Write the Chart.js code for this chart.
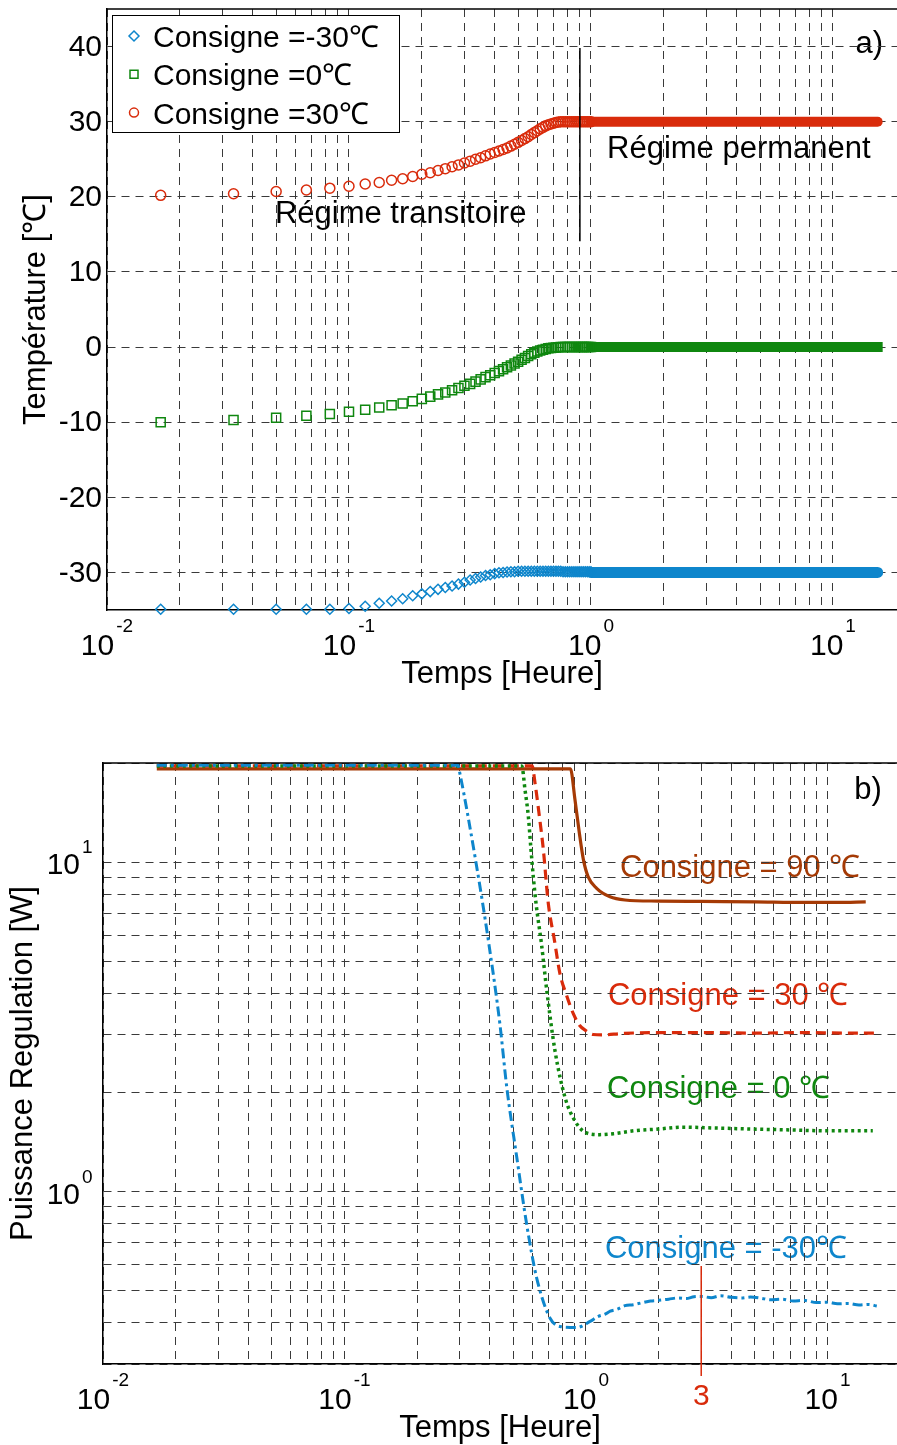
<!DOCTYPE html>
<html lang="fr">
<head>
<meta charset="UTF-8">
<title>Consigne - Température et Puissance de régulation</title>
<script src="https://cdn.jsdelivr.net/npm/chart.js"></script>
<style>
    body { margin: 0; background: #fff; }
    .panneau { position: absolute; left: 0; width: 897px; }
    #haut { top: 0; height: 700px; }
    #bas { top: 740px; height: 705px; }
</style>
</head>
<body>
<div class="panneau" id="haut"><canvas id="graphTemp"></canvas></div>
<div class="panneau" id="bas"><canvas id="graphPuissance"></canvas></div>
<script>
// ---- a) température, un échantillon par minute pendant le transitoire
const minutes = [1,2,3,4,5,6,7,8,9,10,11,12,13,14,15,16,17,18,19,20,
    21,22,23,24,25,26,27,28,29,30,31,32,33,34,35,36,37,38,39,40,
    41,42,43,44,45,46,47,48,49,50,51,52,53,54,55,56,57,58,59,60];
const tempM30 = [-34.9,-34.9,-34.9,-34.9,-34.9,-34.8,-34.5,-34.1,-33.8,-33.5,
    -33.1,-32.85,-32.55,-32.25,-32.0,-31.8,-31.55,-31.3,-31.0,-30.8,
    -30.6,-30.4,-30.3,-30.15,-30.05,-30.0,-29.95,-29.9,-29.9,-29.85,
    -29.85,-29.85,-29.85,-29.85,-29.85,-29.85,-29.85,-29.85,-29.85,-29.85,
    -29.85,-29.85,-29.85,-29.85,-29.85,-29.9,-29.9,-29.9,-29.9,-29.9,
    -29.9,-29.9,-29.9,-29.9,-29.9,-29.9,-29.9,-29.9,-29.9,-29.9];
const temp0 = [-10.0,-9.7,-9.4,-9.15,-8.9,-8.6,-8.35,-8.05,-7.75,-7.5,
    -7.2,-6.9,-6.6,-6.3,-6.05,-5.75,-5.45,-5.15,-4.9,-4.6,
    -4.3,-4.0,-3.75,-3.45,-3.2,-2.95,-2.7,-2.45,-2.2,-1.95,
    -1.7,-1.45,-1.2,-0.95,-0.75,-0.6,-0.45,-0.35,-0.25,-0.17,
    -0.12,-0.08,-0.05,-0.02,0,0,0,0,0,0,
    0,0,0,0,0,0,0,0,0,0];
const temp30 = [20.2,20.4,20.7,20.9,21.15,21.4,21.7,21.9,22.2,22.4,
    22.7,23.0,23.2,23.5,23.75,24.0,24.25,24.5,24.75,25.0,
    25.2,25.45,25.7,25.9,26.1,26.3,26.5,26.75,27.0,27.25,
    27.5,27.75,28.0,28.3,28.55,28.8,29.05,29.25,29.45,29.6,
    29.7,29.8,29.9,29.95,30,30,30,30,30,30,
    30,30,30,30,30,30,30,30,30,30];
// régime permanent (heures) : les marqueurs se confondent en une bande
const tPermanent = [1, 15.3];
const permM30 = [-30, -30];
const perm0 = [0, 0];
const perm30 = [30, 30];
const yTicksTemp = [-30,-20,-10,0,10,20,30,40];

// ---- b) puissance de régulation (W), temps en heures
const tP90 = [0.0167,0.1,0.5,0.862,0.90,0.938,0.975,1.02,1.107,1.257,1.45,2,3,5,8,11,14.4];
const p90 = [19.2,19.2,19.2,19.2,15.5,12.3,10.2,9.04,8.33,7.85,7.68,7.62,7.6,7.58,7.55,7.55,7.58];
const tP30 = [0.0167,0.1,0.4,0.598,0.615,0.641,0.666,0.698,0.74,0.78,0.83,0.886,0.94,1.0,1.07,1.18,1.4,2,3,5,8,12,15.9];
const p30 = [19.6,19.6,19.6,19.6,17.4,13.8,10.9,7.5,5.8,4.59,3.95,3.47,3.2,3.08,3.0,2.99,3.02,3.04,3.04,3.03,3.04,3.03,3.03];
const tP0 = [0.0167,0.1,0.3,0.542,0.559,0.577,0.592,0.605,0.621,0.655,0.688,0.744,0.819,0.9,1.0,1.14,1.3,1.57,2.0,2.52,3.5,4.77,7,10,15.4];
const p0 = [19.6,19.6,19.6,19.6,16.6,13.8,10.9,9.04,7.5,5.6,4.08,2.68,1.93,1.64,1.51,1.49,1.5,1.53,1.55,1.57,1.56,1.55,1.54,1.53,1.53];
const tPm30 = [0.0167,0.1,0.2,0.295,0.30,0.347,0.394,0.44,0.47,0.517,0.568,0.625,0.71,0.78,0.915,
    1.04,1.12,1.2,1.26,1.35,1.45,1.57,1.7,1.85,2.0,2.2,2.4,2.6,2.8,3.0,3.3,3.6,4.0,4.4,4.8,
    5.3,5.8,6.5,7.2,8.0,9.0,10,11,12.2,13.5,14.8,16];
const pm30 = [19.7,19.7,19.7,19.7,18.7,10.4,5.8,3.23,2.07,1.27,0.796,0.547,0.413,0.39,0.387,
    0.404,0.418,0.425,0.434,0.44,0.451,0.454,0.46,0.466,0.468,0.472,0.476,0.474,0.48,0.481,0.477,0.483,0.478,0.476,0.479,
    0.475,0.47,0.472,0.466,0.468,0.461,0.462,0.457,0.458,0.453,0.455,0.45];
const yTicksPuiss = [0.3,0.4,0.5,0.6,0.7,0.8,0.9,1,2,3,4,5,6,7,8,9,10,20];

// axe des temps commun
const xTicksLog = [0.01,0.02,0.03,0.04,0.05,0.06,0.07,0.08,0.09,
    0.1,0.2,0.3,0.4,0.5,0.6,0.7,0.8,0.9,1,2,3,4,5,6,7,8,9,10];
const decades = [-2, -1, 0, 1];

const police = "Arial, 'Liberation Sans', Helvetica, sans-serif";
const bleu = '#0e86cc', vert = '#0f870f', rouge = '#d92b0b', brun = '#a53a05';
const grille = { color: '#3a3a3a', lineWidth: 1, drawTicks: false };
const bordure = { color: '#000', width: 1.5, dash: [8, 6] };

function points(xs, ys) {
    return xs.map((x, i) => ({ x: x, y: ys[i] }));
}

function dixPuissance(ctx, exposant, x, yBase, centre) {
    ctx.font = '30px ' + police;
    const wBase = ctx.measureText('10').width;
    ctx.font = '19px ' + police;
    const wExp = ctx.measureText(exposant).width;
    const x0 = centre ? x - (wBase + 2 + wExp) / 2 : x - wBase;
    ctx.textAlign = 'left';
    ctx.font = '30px ' + police;
    ctx.fillText('10', x0, yBase);
    ctx.font = '19px ' + police;
    ctx.fillText(exposant, x0 + wBase + 2, yBase - (centre ? 23 : 21));
}

function marqueur(ctx, style, cx, cy, r) {
    ctx.beginPath();
    if (style === 'circle') {
        ctx.arc(cx, cy, r, 0, Math.PI * 2);
    } else if (style === 'rect') {
        ctx.rect(cx - r, cy - r, 2 * r, 2 * r);
    } else {
        ctx.moveTo(cx, cy - r); ctx.lineTo(cx + r, cy);
        ctx.lineTo(cx, cy + r); ctx.lineTo(cx - r, cy);
        ctx.closePath();
    }
    ctx.stroke();
}

function cadre(chart, titreY, xTitreY) {
    const { ctx, chartArea: a, scales: { x } } = chart;
    ctx.save();
    ctx.strokeStyle = '#000';
    ctx.lineWidth = 1.5;
    ctx.beginPath();
    ctx.moveTo(a.left, a.top); ctx.lineTo(a.right, a.top);
    ctx.stroke();
    ctx.fillStyle = '#000';
    decades.forEach(d => dixPuissance(ctx, String(d), x.getPixelForValue(Math.pow(10, d)), a.bottom + 45, true));
    ctx.font = '31px ' + police;
    ctx.textAlign = 'center';
    ctx.fillText('Temps [Heure]', (a.left + a.right) / 2, a.bottom + 73);
    ctx.translate(xTitreY, (a.top + a.bottom) / 2);
    ctx.rotate(-Math.PI / 2);
    ctx.fillText(titreY, 0, 0);
    ctx.restore();
}

const decorTemp = {
    id: 'decorTemp',
    beforeDraw(chart) {
        const { ctx, scales: { x, y } } = chart;
        ctx.save();
        ctx.fillStyle = '#000';
        ctx.font = '31px ' + police;
        ctx.fillText('Régime transitoire', x.getPixelForValue(0.0494), y.getPixelForValue(16.45));
        ctx.fillText('Régime permanent', x.getPixelForValue(1.165), y.getPixelForValue(25.2));
        ctx.textAlign = 'right';
        ctx.fillText('a)', x.getPixelForValue(16.1), y.getPixelForValue(39.1));
        ctx.restore();
    },
    afterDatasetsDraw(chart) {
        const { ctx, scales: { x, y } } = chart;
        const xs = x.getPixelForValue(0.9);
        ctx.save();
        ctx.strokeStyle = '#000';
        ctx.lineWidth = 1.5;
        ctx.beginPath();
        ctx.moveTo(xs, y.getPixelForValue(39.8));
        ctx.lineTo(xs, y.getPixelForValue(14.1));
        ctx.stroke();
        ctx.restore();
    },
    afterDraw(chart) {
        const { ctx, chartArea: a, scales: { y } } = chart;
        cadre(chart, 'Température [℃]', 45);
        ctx.save();
        // graduations de température
        ctx.fillStyle = '#000';
        ctx.font = '30px ' + police;
        ctx.textAlign = 'right';
        ctx.textBaseline = 'middle';
        yTicksTemp.forEach(v => ctx.fillText(String(v), a.left - 5, y.getPixelForValue(v) + 1));
        ctx.textBaseline = 'alphabetic';
        // légende
        ctx.fillStyle = '#fff';
        ctx.fillRect(112, 15, 287, 117);
        ctx.strokeStyle = '#000';
        ctx.lineWidth = 1;
        ctx.strokeRect(112.5, 15.5, 287, 117);
        const tailles = { rectRot: 5, rect: 4, circle: 4.5 };
        chart.data.datasets.filter(d => d.label).forEach((d, i) => {
            const cy = 36 + i * 38.3;
            ctx.strokeStyle = d.borderColor;
            ctx.lineWidth = 1.5;
            marqueur(ctx, d.pointStyle, 134, cy, tailles[d.pointStyle]);
            ctx.fillStyle = '#000';
            ctx.font = '30px ' + police;
            ctx.textAlign = 'left';
            ctx.fillText(d.label, 153, cy + 11);
        });
        ctx.restore();
    }
};

const decorPuiss = {
    id: 'decorPuiss',
    beforeDraw(chart) {
        const { ctx, scales: { x, y } } = chart;
        ctx.save();
        ctx.font = '31px ' + police;
        ctx.fillStyle = brun;
        ctx.fillText('Consigne = 90 ℃', x.getPixelForValue(1.383), y.getPixelForValue(9.02));
        ctx.fillStyle = rouge;
        ctx.fillText('Consigne = 30 ℃', x.getPixelForValue(1.233), y.getPixelForValue(3.68));
        ctx.fillStyle = vert;
        ctx.fillText('Consigne = 0 ℃', x.getPixelForValue(1.222), y.getPixelForValue(1.93));
        ctx.fillStyle = bleu;
        ctx.fillText('Consigne = -30℃', x.getPixelForValue(1.198), y.getPixelForValue(0.628));
        ctx.fillStyle = '#000';
        ctx.textAlign = 'right';
        ctx.fillText('b)', x.getPixelForValue(16.8), y.getPixelForValue(15.5));
        ctx.restore();
    },
    afterDraw(chart) {
        const { ctx, chartArea: a, scales: { x, y } } = chart;
        cadre(chart, 'Puissance Regulation [W]', 32);
        ctx.save();
        ctx.fillStyle = '#000';
        [0, 1].forEach(d => dixPuissance(ctx, String(d), a.left - 23, y.getPixelForValue(Math.pow(10, d)) + 12, false));
        // repère t = 3 h
        const x3 = x.getPixelForValue(3);
        ctx.strokeStyle = rouge;
        ctx.lineWidth = 1.5;
        ctx.beginPath();
        ctx.moveTo(x3, y.getPixelForValue(0.595));
        ctx.lineTo(x3, a.bottom + 12);
        ctx.stroke();
        ctx.fillStyle = rouge;
        ctx.font = '30px ' + police;
        ctx.textAlign = 'center';
        ctx.fillText('3', x3, a.bottom + 41);
        ctx.restore();
    }
};

function axeX(max, hauteur) {
    return {
        type: 'logarithmic', min: 0.01, max: max,
        afterBuildTicks: s => { s.ticks = xTicksLog.map(v => ({ value: v })); },
        afterFit: s => { s.height = hauteur; },
        ticks: { display: false },
        grid: grille, border: bordure
    };
}

new Chart(document.getElementById('graphTemp'), {
    type: 'scatter',
    data: {
        datasets: [
            { label: 'Consigne =-30℃', data: points(minutes.map(m => m / 60), tempM30), pointStyle: 'rectRot',
              pointRadius: 5, borderColor: bleu, backgroundColor: 'rgba(0,0,0,0)', pointBorderWidth: 1.5 },
            { label: 'Consigne =0℃', data: points(minutes.map(m => m / 60), temp0), pointStyle: 'rect',
              pointRadius: 6.4, borderColor: vert, backgroundColor: 'rgba(0,0,0,0)', pointBorderWidth: 1.5 },
            { label: 'Consigne =30℃', data: points(minutes.map(m => m / 60), temp30), pointStyle: 'circle',
              pointRadius: 5, borderColor: rouge, backgroundColor: 'rgba(0,0,0,0)', pointBorderWidth: 1.5 },
            { data: points(tPermanent, permM30), showLine: true, pointRadius: 0, borderColor: bleu, borderWidth: 11, borderCapStyle: 'round' },
            { data: points(tPermanent, perm0), showLine: true, pointRadius: 0, borderColor: vert, borderWidth: 10, borderCapStyle: 'square' },
            { data: points(tPermanent, perm30), showLine: true, pointRadius: 0, borderColor: rouge, borderWidth: 10, borderCapStyle: 'round' }
        ]
    },
    options: {
        responsive: true, maintainAspectRatio: false, animation: false,
        clip: false,
        layout: { autoPadding: false, padding: { top: 9, right: 0, bottom: 0, left: 0 } },
        plugins: { legend: { display: false }, tooltip: { enabled: false } },
        scales: {
            x: axeX(18.39, 90),
            y: {
                min: -35, max: 45,
                afterBuildTicks: s => { s.ticks = yTicksTemp.map(v => ({ value: v })); },
                afterFit: s => { s.width = 107; },
                ticks: { display: false },
                grid: grille, border: bordure
            }
        }
    },
    plugins: [decorTemp]
});

new Chart(document.getElementById('graphPuissance'), {
    type: 'line',
    data: {
        datasets: [
            { data: points(tPm30, pm30), borderColor: bleu, borderWidth: 3, borderDash: [10, 4, 3, 4] },
            { data: points(tP0, p0), borderColor: vert, borderWidth: 3.5, borderDash: [3, 3.5] },
            { data: points(tP30, p30), borderColor: rouge, borderWidth: 3.2, borderDash: [10, 6] },
            { data: points(tP90, p90), borderColor: brun, borderWidth: 3.2 }
        ]
    },
    options: {
        responsive: true, maintainAspectRatio: false, animation: false,
        layout: { autoPadding: false, padding: { top: 23, right: 0, bottom: 0, left: 0 } },
        elements: { point: { radius: 0 }, line: { cubicInterpolationMode: 'monotone', borderJoinStyle: 'round' } },
        plugins: { legend: { display: false }, tooltip: { enabled: false } },
        scales: {
            x: axeX(19.4, 81),
            y: {
                type: 'logarithmic', min: 0.3, max: 20,
                afterBuildTicks: s => { s.ticks = yTicksPuiss.map(v => ({ value: v })); },
                afterFit: s => { s.width = 103; },
                ticks: { display: false },
                grid: grille, border: bordure
            }
        }
    },
    plugins: [decorPuiss]
});
</script>
</body>
</html>
